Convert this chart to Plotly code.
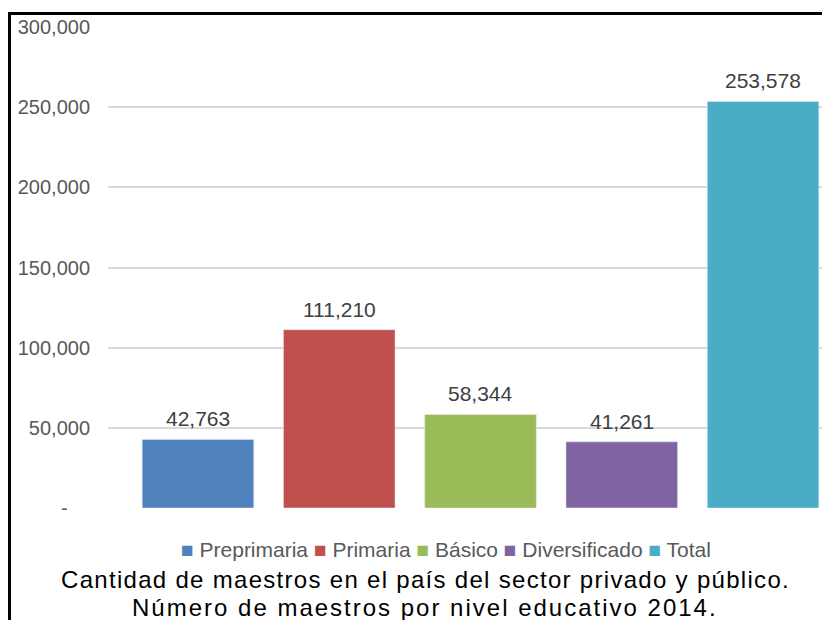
import plotly.graph_objects as go

categories = ["Preprimaria", "Primaria", "Básico", "Diversificado", "Total"]
values = [42763, 111210, 58344, 41261, 253578]
colors = ["#4F81BD", "#C0504D", "#9BBB59", "#8064A2", "#4BACC6"]
tick_vals = [0, 50000, 100000, 150000, 200000, 250000, 300000]
tick_text = ["-\u00a0\u00a0\u00a0\u00a0", "50,000", "100,000", "150,000", "200,000", "250,000", "300,000"]
title_lines = ["Cantidad de maestros en el país del sector privado y público.",
               "Número de maestros por nivel educativo 2014."]

FONT = "Liberation Sans, Arial, sans-serif"

# page has an 8px body margin; figure sized so it fills the window
OFF = 8
W, H = 830 - OFF, 620 - OFF
L, R, T, B = 100, 0, 19, 112
pw, ph = W - L - R, H - T - B


def px(x):  # page pixel -> paper x
    return (x - OFF - L) / pw


def py(y):  # page pixel -> paper y
    return (H - B - (y - OFF)) / ph


fig = go.Figure()
for i, (c, v, col) in enumerate(zip(categories, values, colors)):
    fig.add_trace(go.Bar(x=[i], y=[v], name=c, marker_color=col, width=0.79,
                         showlegend=False))
    fig.add_annotation(x=i, y=v, xref="x", yref="y", text=f"{v:,}", showarrow=False,
                       yanchor="bottom", yshift=7,
                       font=dict(family=FONT, size=21, color="#404040"))

fig.update_layout(
    width=W, height=H,
    margin=dict(l=L, r=R, t=T, b=B, pad=0),
    paper_bgcolor="white", plot_bgcolor="white",
    barmode="overlay",
    font=dict(family=FONT),
    xaxis=dict(range=[-0.637, 4.474], showticklabels=False, showgrid=False,
               zeroline=False, showline=False, fixedrange=True),
    yaxis=dict(range=[0, 300000], tickvals=tick_vals, ticktext=tick_text,
               showgrid=True, gridcolor="#D9D9D9", gridwidth=1.5,
               zeroline=False, showline=False, ticks="", ticklabelstandoff=17,
               tickfont=dict(family=FONT, size=20, color="#595959")),
)

# legend built as text with coloured squares
legend_parts = [f"<span style='color:{col}'>■</span> {c}" for c, col in zip(categories, colors)]
fig.add_annotation(text=" ".join(legend_parts), xref="paper", yref="paper",
                   x=px(446), y=py(549), xanchor="center", yanchor="middle", showarrow=False,
                   font=dict(family=FONT, size=21, color="#595959"))

# frame
fig.add_shape(type="line", xref="paper", yref="paper", x0=px(9.5), x1=px(9.5), y0=py(13), y1=py(640),
              line=dict(color="black", width=3))
fig.add_shape(type="line", xref="paper", yref="paper", x0=px(8), x1=px(850), y0=py(13.5), y1=py(13.5),
              line=dict(color="black", width=3))

for line, yc, ls in zip(title_lines, [579, 607], [1.3, 2.0]):
    fig.add_annotation(text=f"<span style='letter-spacing:{ls}px'>{line}</span>",
                       xref="paper", yref="paper", x=px(425), y=py(yc),
                       xanchor="center", yanchor="middle", showarrow=False,
                       font=dict(family=FONT, size=24, color="black"))

fig.write_html("out.html")
